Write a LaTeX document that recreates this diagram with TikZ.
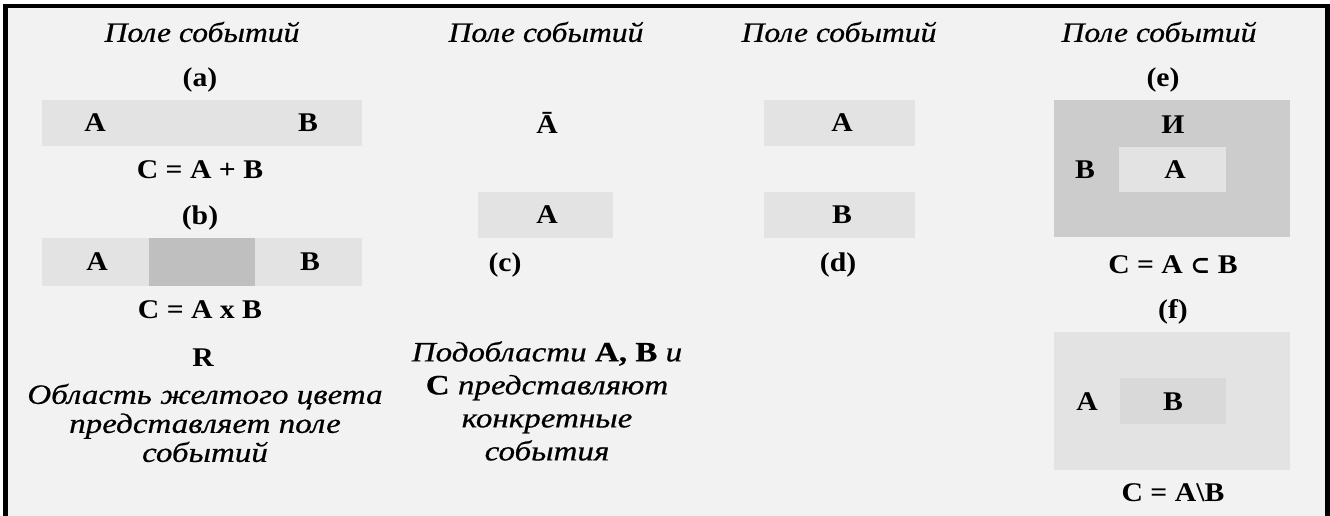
\documentclass[tikz,border=0pt]{standalone}
\usepackage{fontspec}
\setmainfont{Liberation Serif}
\newfontfamily\symfont{DejaVu Serif}
\newfontfamily\hdfont[FakeStretch=1.13,FakeBold=0.6]{Liberation Serif}
\newfontfamily\bodyfont[FakeStretch=1.18,FakeBold=0.6]{Liberation Serif}
\newfontfamily\blfont[FakeStretch=1.1]{Liberation Serif}
\begin{document}
\begin{tikzpicture}[x=1pt,y=-1pt,
  hd/.style={font=\hdfont\fontsize{28}{30}\selectfont\itshape, inner sep=0pt},
  bl/.style={font=\blfont\fontsize{27}{30}\selectfont\bfseries, inner sep=0pt},
  it/.style={font=\bodyfont\fontsize{28}{30}\selectfont\itshape, align=center, inner sep=0pt},
  light/.style={fill=gray!22},
  darkr/.style={fill=gray!50},
  mid/.style={fill=gray!40},
  midf/.style={fill=gray!30}]
\useasboundingbox (0,0) rectangle (1330,516);
\fill[white] (0,0) rectangle (1330,516);
\fill[gray!10] (3,4) rectangle (1330,516);
% frame
\fill[black] (3,4) rectangle (1330,8);
\fill[black] (3,4) rectangle (8,516);
\fill[black] (1325,4) rectangle (1330,516);
% headers
\node[hd] (h1) at (202,32) {Поле событий};
\node[hd] (h2) at (546,32) {Поле событий};
\node[hd] (h3) at (839,32) {Поле событий};
\node[hd] (h4) at (1159,32) {Поле событий};
% (a)
\node[bl] (la) at (200,80) {(a)};
\fill[light] (42,100) rectangle (362,146);
\node[bl] (aA) at (95,123) {A};
\node[bl] (aB) at (308,123) {B};
\node[bl] (aC) at (200,170) {C = A + B};
% (b)
\node[bl] (lb) at (200,218) {(b)};
\fill[light] (42,238) rectangle (362,286);
\fill[darkr] (149,238) rectangle (255,286);
\node[bl] (bA) at (97,262) {A};
\node[bl] (bB) at (310,262) {B};
\node[bl] (bC) at (200,310) {C = A x B};
\node[bl] (R) at (203,358) {R};
\node[it, font=\bodyfont\fontsize{28}{29}\selectfont\itshape] (t1) at (205,423) {Область желтого цвета\\представляет поле\\событий};
% (c)
\node[bl] (cAbar) at (547,123) {Ā};
\fill[light] (478,192) rectangle (613,238);
\node[bl] (cA) at (547,215) {A};
\node[bl] (lc) at (505,265) {(c)};
\node[it, font=\bodyfont\fontsize{28}{33}\selectfont\itshape] (t2) at (547,401) {Подобласти \textbf{\upshape A, B} и\\\textbf{\upshape C} представляют\\конкретные\\события};
% (d)
\fill[light] (764,100) rectangle (915,146);
\node[bl] (dA) at (842,123) {A};
\fill[light] (764,192) rectangle (915,238);
\node[bl] (dB) at (842,215) {B};
\node[bl] (ld) at (838,265) {(d)};
% (e)
\node[bl] (le) at (1163,80) {(e)};
\fill[mid] (1054,100) rectangle (1290,237);
\fill[light] (1119,147) rectangle (1226,192);
\node[bl] (eI) at (1173,125) {И};
\node[bl] (eB) at (1085,170) {B};
\node[bl] (eA) at (1175,170) {A};
\node[bl] (eC) at (1173,265) {C = A {\symfont\bfseries\fontsize{24}{28}\selectfont ⊂} B};
% (f)
\node[bl] (lf) at (1173,312) {(f)};
\fill[light] (1054,332) rectangle (1290,470);
\fill[midf] (1120,378) rectangle (1226,424);
\node[bl] (fA) at (1087,402) {A};
\node[bl] (fB) at (1173,402) {B};
\node[bl] (fC) at (1173,493) {C = A\textbackslash B};
\end{tikzpicture}
\end{document}
